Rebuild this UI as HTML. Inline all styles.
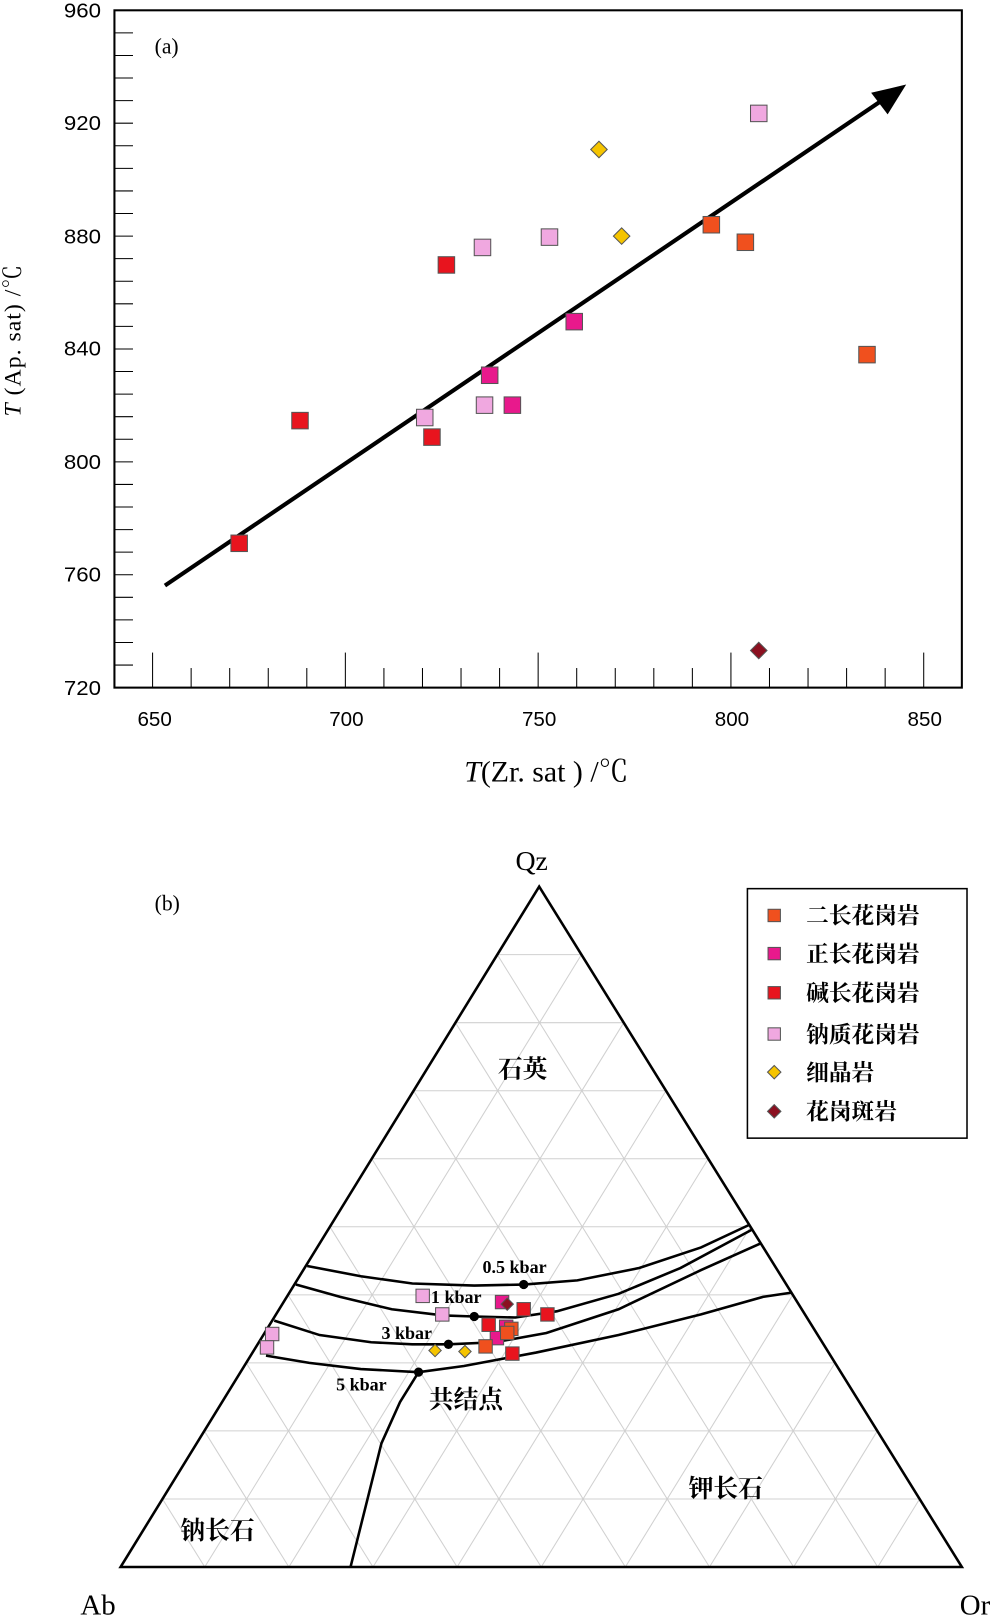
<!DOCTYPE html>
<html><head><meta charset="utf-8"><style>html,body{margin:0;padding:0;background:#fff}svg{display:block}</style></head>
<body>
<svg id="s" width="1000" height="1617" viewBox="0 0 970 1568.5" xmlns="http://www.w3.org/2000/svg" font-family="'Liberation Serif','Noto Serif CJK SC',serif">
<rect width="970" height="1568.5" fill="#fff"/>
<!-- Plot a -->
<rect x="111" y="10" width="822" height="657" fill="none" stroke="#000" stroke-width="2"/>
<g id="ticks" stroke="#000" stroke-width="1"></g>
<g font-family="'Liberation Sans',sans-serif" font-size="20" fill="#000" text-anchor="end">
<text x="98" y="17" textLength="36" lengthAdjust="spacingAndGlyphs">960</text><text x="98" y="126" textLength="36" lengthAdjust="spacingAndGlyphs">920</text><text x="98" y="236" textLength="36" lengthAdjust="spacingAndGlyphs">880</text><text x="98" y="345" textLength="36" lengthAdjust="spacingAndGlyphs">840</text><text x="98" y="455" textLength="36" lengthAdjust="spacingAndGlyphs">800</text><text x="98" y="564" textLength="36" lengthAdjust="spacingAndGlyphs">760</text><text x="98" y="674" textLength="36" lengthAdjust="spacingAndGlyphs">720</text>
</g>
<g font-family="'Liberation Sans',sans-serif" font-size="20" fill="#000" text-anchor="middle">
<text x="150" y="704">650</text><text x="336" y="704">700</text><text x="523" y="704">750</text><text x="710" y="704">800</text><text x="897" y="704">850</text>
</g>
<text x="150" y="52" font-size="21">(a)</text>
<text x="530" y="758" font-size="29" text-anchor="middle"><tspan font-style="italic">T</tspan>(Zr. sat ) /℃</text>
<text transform="translate(20,330) rotate(-90)" font-size="23" text-anchor="middle" letter-spacing="1"><tspan font-style="italic">T</tspan> (Ap. sat) /℃</text>
<line x1="160" y1="568" x2="862" y2="93" stroke="#000" stroke-width="4"/>
<polygon points="879,82 845,90 861,111" fill="#000"/>
<g id="pa" stroke="#555" stroke-width="1"></g>
<!-- Plot b -->
<g id="grid" stroke="#d0d0d0" stroke-width="1"></g>
<polygon points="117,1520 933,1520 523,860" fill="none" stroke="#000" stroke-width="2.5"/>
<g fill="none" stroke="#000" stroke-width="2.5">
<polyline points="298,1228 350,1238 400,1245 460,1247 508,1246 560,1242 620,1230 680,1210 727,1188"/>
<polyline points="287,1246 330,1258 380,1270 430,1276 460,1277 500,1278 540,1272 600,1255 660,1230 729,1193"/>
<polyline points="266,1281 310,1295 360,1302 400,1304 435,1304 480,1302 530,1293 600,1270 680,1232 738,1206"/>
<polyline points="258,1315 300,1322 350,1328 406,1331 450,1325 520,1312 600,1295 680,1275 740,1258 767,1254"/>
<polyline points="406,1331 388,1360 370,1400 355,1460 340,1520"/>
</g>
<g fill="#000"><circle cx="508" cy="1246" r="4.5"/><circle cx="460" cy="1277" r="4.5"/><circle cx="435" cy="1304" r="4.5"/><circle cx="406" cy="1331" r="4.5"/></g>
<g font-size="17.5" font-weight="bold" fill="#000">
<text x="468" y="1235">0.5 kbar</text><text x="418" y="1264">1 kbar</text><text x="370" y="1299">3 kbar</text><text x="326" y="1349">5 kbar</text>
</g>
<g font-size="24" fill="#000" font-weight="bold">
<text x="483" y="1045">石英</text><text x="416" y="1366">共结点</text><text x="668" y="1452">钾长石</text><text x="175" y="1493">钠长石</text>
</g>
<text x="500" y="844" font-size="27">Qz</text>
<text x="78" y="1566" font-size="28">Ab</text>
<text x="931" y="1566" font-size="28">Or</text>
<text x="150" y="883" font-size="21">(b)</text>
<rect x="725" y="862" width="213" height="242" fill="#fff" stroke="#000" stroke-width="1.5"/>
<g id="leg" stroke="#555" stroke-width="1"></g>
<g font-size="22" fill="#000" font-weight="bold">
<text x="782" y="896">二长花岗岩</text><text x="782" y="933">正长花岗岩</text><text x="782" y="971">碱长花岗岩</text><text x="782" y="1011">钠质花岗岩</text><text x="782" y="1048">细晶岩</text><text x="782" y="1086">花岗斑岩</text>
</g>
<g id="pb" stroke="#555" stroke-width="1"></g>
</svg>
<script>
var NS="http://www.w3.org/2000/svg";
function el(p,t,a){var e=document.createElementNS(NS,t);for(var k in a)e.setAttribute(k,a[k]);document.getElementById(p).appendChild(e);}
for(var i=0;i<=30;i++){var y=10+i*657/30;el("ticks","line",{x1:111,y1:y,x2:129,y2:y});}
for(var v=650;v<=850;v+=10){var x=148+(v-650)*748/200;var L=(v%50==0)?34:19;el("ticks","line",{x1:x,y1:667,x2:x,y2:667-L});}
var C={r:"#e8141e",o:"#f0501e",m:"#e8198c",l:"#f0a8e0",y:"#f5c400",d:"#8b1020"};
function sq(p,c,x,y,s){el(p,"rect",{x:x-s/2,y:y-s/2,width:s,height:s,fill:C[c]});}
function di(p,c,x,y,s){var h=s/2;el(p,"polygon",{points:(x)+","+(y-h)+" "+(x+h)+","+y+" "+x+","+(y+h)+" "+(x-h)+","+y,fill:C[c]});}
var A=[["r",232,527],["r",291,408],["r",419,424],["r",433,257],["o",690,218],["o",723,235],["o",841,344],["m",475,364],["m",497,393],["m",557,312],["l",412,405],["l",470,393],["l",468,240],["l",533,230],["l",736,110]];
A.forEach(function(p){sq("pa",p[0],p[1],p[2],16);});
di("pa","y",581,145,16);di("pa","y",603,229,16);di("pa","d",736,631,16);
var Ab=[117,1520],Or=[933,1520],Qz=[523,860];
function lp(a,b,t){return [a[0]+(b[0]-a[0])*t,a[1]+(b[1]-a[1])*t];}
for(var k=1;k<10;k++){var t=k/10,p,q;
p=lp(Ab,Qz,t);q=lp(Or,Qz,t);el("grid","line",{x1:p[0],y1:p[1],x2:q[0],y2:q[1]});
p=lp(Ab,Or,t);q=lp(Ab,Qz,t);el("grid","line",{x1:p[0],y1:p[1],x2:q[0],y2:q[1]});
p=lp(Or,Ab,t);q=lp(Or,Qz,t);el("grid","line",{x1:p[0],y1:p[1],x2:q[0],y2:q[1]});}
sq("leg","o",751,888,12);sq("leg","m",751,925,12);sq("leg","r",751,963,12);sq("leg","l",751,1003,12);di("leg","y",751,1040,13);di("leg","d",751,1078,13);
var B=[["l",410,1257],["l",429,1275],["l",264,1294],["l",259,1307],["m",487,1263],["m",491,1287],["m",482,1298],["r",508,1270],["r",531,1275],["r",474,1285],["r",497,1313],["o",496,1289],["o",492,1293],["o",471,1306]];
B.forEach(function(p){sq("pb",p[0],p[1],p[2],13);});
di("pb","d",492,1265,12);di("pb","y",422,1310,12);di("pb","y",451,1311,12);
</script>
</body></html>
